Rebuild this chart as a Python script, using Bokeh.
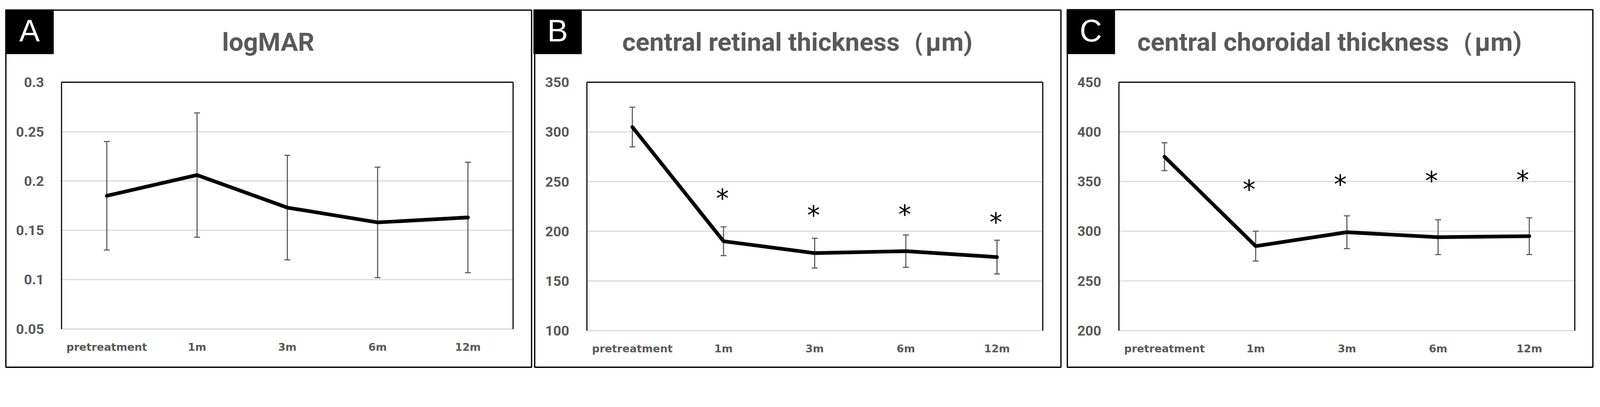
from bokeh.plotting import figure
from bokeh.models import (Range1d, FixedTicker, LinearAxis, ColumnDataSource, Whisker,
                          TeeHead, Label)
from bokeh.layouts import row
from bokeh.core.properties import value
from bokeh.embed import file_html
from bokeh.resources import INLINE

# ---------------- data ----------------
months = ["pretreatment", "1m", "3m", "6m", "12m"]
star_months = ["1m", "3m", "6m", "12m"]

logmar_mean = [0.185, 0.206, 0.173, 0.158, 0.163]
logmar_sd = [0.055, 0.063, 0.053, 0.056, 0.056]
logmar_ticks = [0.05, 0.1, 0.15, 0.2, 0.25, 0.3]
logmar_tick_labels = ["0.05", "0.1", "0.15", "0.2", "0.25", "0.3"]

crt_mean = [305, 190, 178, 180, 174]
crt_sd = [20, 14.5, 15, 16.3, 17]
crt_star_y = [236, 219, 220, 212]
crt_ticks = [100, 150, 200, 250, 300, 350]
crt_tick_labels = ["100", "150", "200", "250", "300", "350"]

cct_mean = [375, 285, 299, 294, 295]
cct_sd = [14, 15, 16.5, 17.5, 18.5]
cct_star_y = [345, 350, 353.5, 354.3]
cct_ticks = [200, 250, 300, 350, 400, 450]
cct_tick_labels = ["200", "250", "300", "350", "400", "450"]

# ---------------- layout constants ----------------
GRAY = "#595959"
GRID = "#D9D9D9"
S = 4096 / 4363                      # design px (reference) -> css px
CANVAS_H = 960
CANVAS_W = [1364, 1361, 1355]
STARTS = [0, CANVAS_W[0] / S, (CANVAS_W[0] + CANVAS_W[1]) / S]

GEOM = [
    dict(L=167.5, R=1398.5, T=224, B=896.5, box=(15.5, 1449, 27, 1001),
         lbox=(14, 146, 25, 147), title_x=731),
    dict(L=1599.5, R=2842.5, T=224, B=901, box=(1457.5, 2892.5, 27, 1001),
         lbox=(1454, 1586, 25, 147), title_x=2174),
    dict(L=3050.5, R=4294, T=223.5, B=901, box=(2910, 4343, 26, 1001),
         lbox=(2908, 3040, 25, 147), title_x=3625),
]


def px(v):
    return v * S


def make_panel(i, letter, title, mean, sd, ticks, tick_labels, star_y, star_dx):
    g = GEOM[i]
    n = len(months)
    ymin, ymax = ticks[0], ticks[-1]
    xper = n / (g["R"] - g["L"])
    yper = (ymax - ymin) / (g["B"] - g["T"])

    def X(p_):
        return (p_ - g["L"]) * xper

    def Y(p_):
        return ymax - (p_ - g["T"]) * yper

    x0 = STARTS[i]
    wref = CANVAS_W[i] / S
    href = CANVAS_H / S
    p = figure(width=CANVAS_W[i], height=CANVAS_H,
               x_range=Range1d(X(x0), X(x0 + wref)), y_range=Range1d(Y(href), Y(0)),
               output_backend="svg", toolbar_location=None, title=None,
               x_axis_location=None, y_axis_location=None, min_border=0)
    p.min_border_left = p.min_border_right = p.min_border_top = p.min_border_bottom = 0
    p.outline_line_color = None
    p.background_fill_color = "white"
    p.border_fill_color = "white"
    for gr in p.grid:
        gr.visible = False

    xpos = [k + 0.5 for k in range(n)]

    # panel box and letter box
    bl, br, bt, bb = g["box"]
    p.quad(left=[X(bl)], right=[X(br)], top=[Y(bt)], bottom=[Y(bb)], fill_color=None,
           line_color="black", line_width=px(3.5), level="image")
    ll, lr, lt, lb = g["lbox"]
    p.quad(left=[X(ll)], right=[X(lr)], top=[Y(lt)], bottom=[Y(lb)], fill_color="black",
           line_color=None, level="image")

    # horizontal gridlines inside the plot area
    p.segment(x0=[0] * len(ticks), x1=[n] * len(ticks), y0=ticks, y1=ticks,
              line_color=GRID, line_width=px(3), level="image")

    # axes (drawn inside the canvas at fixed locations)
    yax = LinearAxis(fixed_location=0, bounds=(ymin, ymax), ticker=FixedTicker(ticks=ticks),
                     major_label_overrides=dict(zip(ticks, tick_labels)),
                     axis_line_color="black", axis_line_width=px(3),
                     major_tick_line_color=None, minor_tick_line_color=None,
                     major_label_standoff=round(px(42)), major_label_text_font="Roboto",
                     major_label_text_font_style="bold",
                     major_label_text_font_size=f"{px(38):.1f}px",
                     major_label_text_color=GRAY)
    p.add_layout(yax, "left")
    rax = LinearAxis(fixed_location=n, bounds=(ymin, ymax), ticker=FixedTicker(ticks=[]),
                     axis_line_color="black", axis_line_width=px(3),
                     major_tick_line_color=None, minor_tick_line_color=None)
    p.add_layout(rax, "right")
    tax = LinearAxis(fixed_location=ymax, bounds=(0, n), ticker=FixedTicker(ticks=[]),
                     axis_line_color="black", axis_line_width=px(3),
                     major_tick_line_color=None, minor_tick_line_color=None)
    p.add_layout(tax, "above")
    xax = LinearAxis(fixed_location=ymin, bounds=(0, n), ticker=FixedTicker(ticks=xpos),
                     major_label_overrides=dict(zip(xpos, months)),
                     axis_line_color=GRID, axis_line_width=px(3),
                     major_tick_line_color=None, minor_tick_line_color=None,
                     major_label_standoff=round(px(27)), major_label_text_font="DejaVu Sans",
                     major_label_text_font_style="bold",
                     major_label_text_font_size=f"{px(29):.1f}px",
                     major_label_text_color=GRAY)
    p.add_layout(xax, "below")

    # error bars
    src = ColumnDataSource(dict(
        x=xpos,
        upper=[m + s for m, s in zip(mean, sd)],
        lower=[m - s for m, s in zip(mean, sd)],
    ))
    w = Whisker(source=src, base="x", upper="upper", lower="lower",
                line_color=GRAY, line_width=px(3),
                upper_head=TeeHead(size=px(16), line_color=GRAY, line_width=px(3)),
                lower_head=TeeHead(size=px(16), line_color=GRAY, line_width=px(3)))
    p.add_layout(w)

    p.line(xpos, mean, line_color="black", line_width=px(10),
           line_join="round", line_cap="round")

    if star_y:
        sx = [xpos[months.index(m)] for m in star_months]
        ssrc = ColumnDataSource(dict(x=sx, y=star_y, t=["*"] * len(star_y)))
        p.text(x="x", y="y", text="t", source=ssrc, text_font=value("DejaVu Sans"),
               text_font_size=f"{px(70):.1f}px", text_color="black", text_align="center",
               text_baseline="middle", y_offset=px(8), x_offset=px(star_dx))

    # letter and title (anchored at the middle of the text box)
    p.add_layout(Label(x=X(ll + 66), y=Y(84), text=letter, text_align="center",
                       text_baseline="middle", text_color="white",
                       text_font="Liberation Sans", text_font_size=f"{px(84):.1f}px"))
    p.add_layout(Label(x=X(g["title_x"]), y=Y(114.5), text=title, text_align="center",
                       text_baseline="middle", text_color=GRAY, text_font="Roboto",
                       text_font_style="bold", text_font_size=f"{px(70):.1f}px"))
    return p


pa = make_panel(0, "A", "logMAR", logmar_mean, logmar_sd, logmar_ticks,
                logmar_tick_labels, None, 0)
pb = make_panel(1, "B", "central retinal thickness（μm)", crt_mean, crt_sd, crt_ticks,
                crt_tick_labels, crt_star_y, -3)
pc = make_panel(2, "C", "central choroidal thickness（μm)", cct_mean, cct_sd, cct_ticks,
                cct_tick_labels, cct_star_y, -18)

layout = row(pa, pb, pc)
open("out.html", "w").write(file_html(layout, INLINE))
